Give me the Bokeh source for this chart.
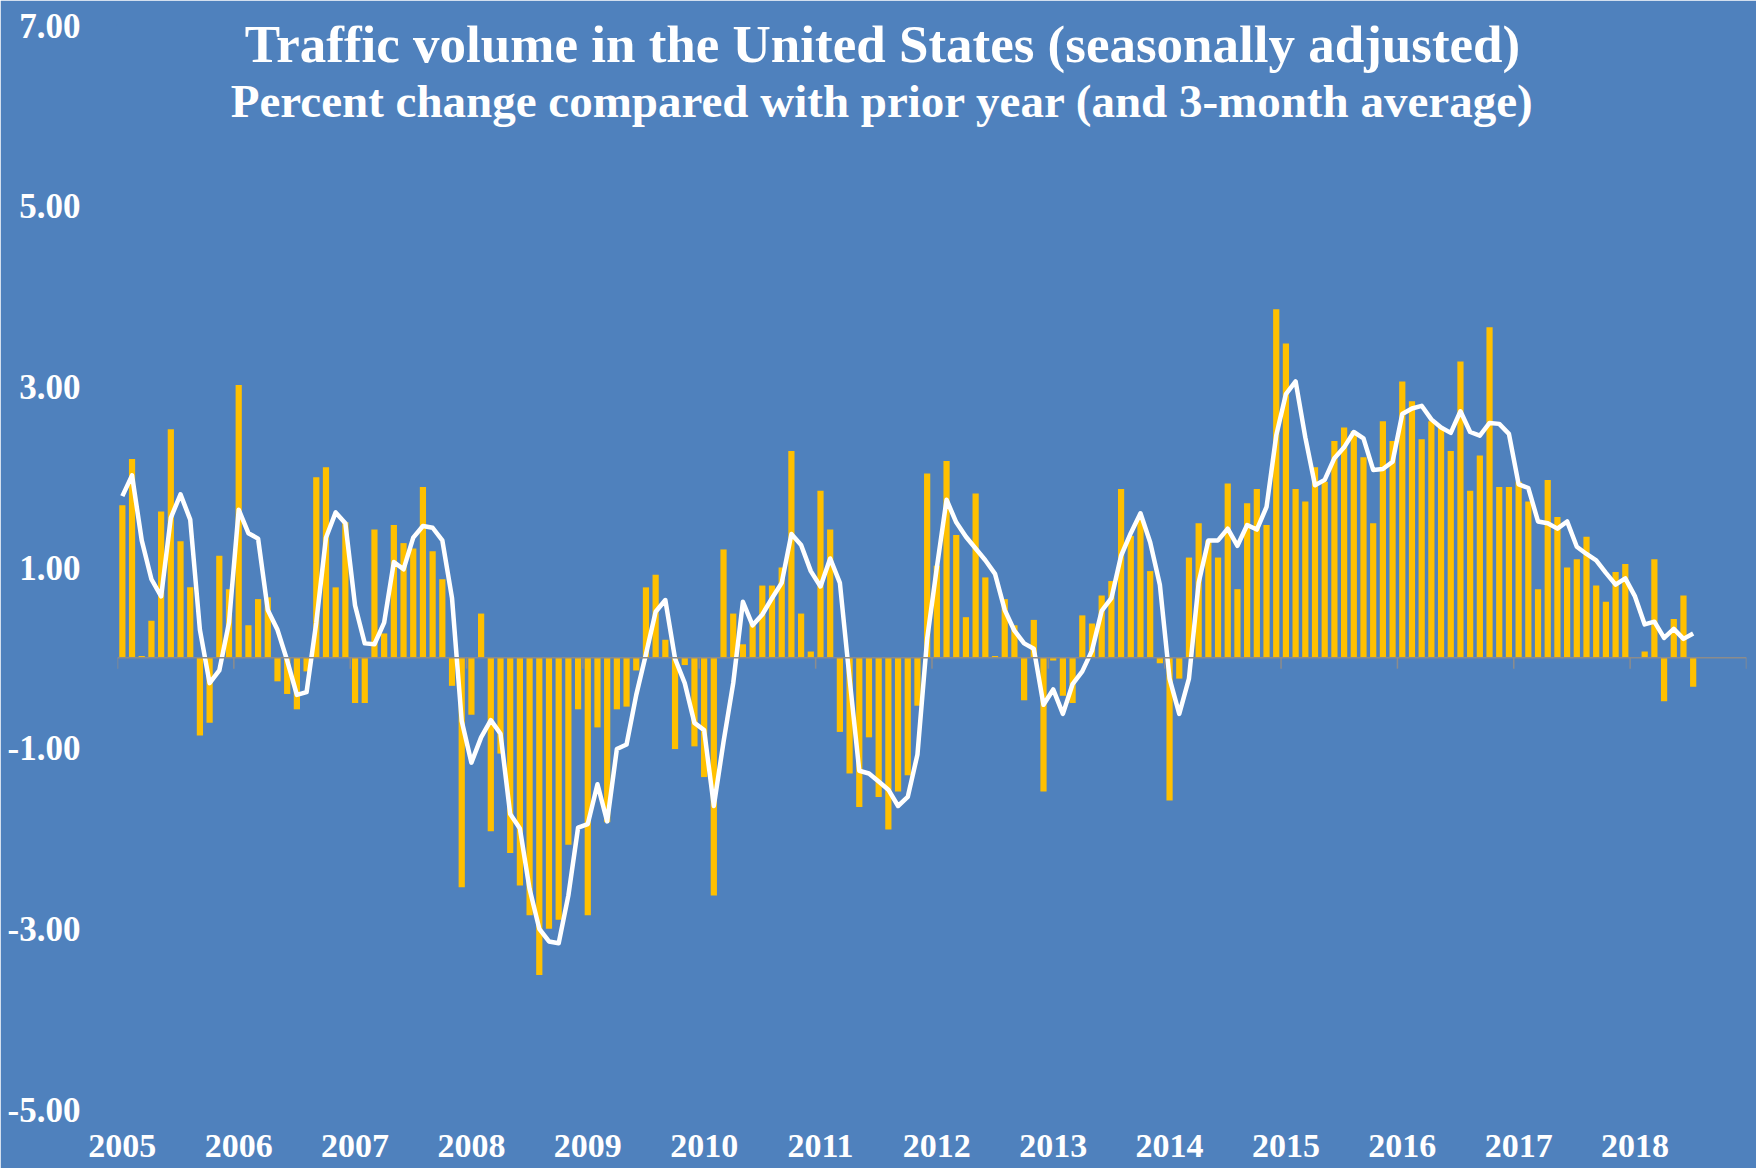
from bokeh.plotting import figure
from bokeh.models import Range1d, FixedTicker, PrintfTickFormatter, Span, Label
from bokeh.embed import file_html
from bokeh.resources import INLINE

# ---------------- data ----------------
years = [str(y) for y in range(2005, 2019)]

yoy_change = [
    # 2005
    1.69, 2.20, 0.02, 0.41, 1.62, 2.53, 1.29, 0.78, -0.86, -0.72, 1.13, 0.76,
    # 2006
    3.02, 0.36, 0.65, 0.67, -0.26, -0.40, -0.57, -0.15, 2.00, 2.11, 0.78, 1.50,
    # 2007
    -0.50, -0.50, 1.42, 0.27, 1.47, 1.27, 1.21, 1.89, 1.18, 0.87, -0.31, -2.54,
    # 2008
    -0.63, 0.49, -1.92, -1.06, -2.16, -2.52, -2.85, -3.51, -3.00, -2.90, -2.07, -0.57,
    # 2009
    -2.85, -0.77, -1.82, -0.57, -0.54, -0.14, 0.78, 0.92, 0.20, -1.01, -0.08, -0.98,
    # 2010
    -1.32, -2.63, 1.20, 0.49, 0.15, 0.38, 0.80, 0.80, 1.00, 2.29, 0.49, 0.07,
    # 2011
    1.85, 1.42, -0.82, -1.28, -1.65, -0.88, -1.54, -1.90, -1.48, -1.30, -0.53, 2.04,
    # 2012
    1.02, 2.18, 1.36, 0.45, 1.82, 0.89, 0.02, 0.65, 0.36, -0.47, 0.42, -1.48,
    # 2013
    -0.03, -0.42, -0.50, 0.47, 0.38, 0.69, 0.85, 1.87, 1.35, 1.55, 0.96, -0.06,
    # 2014
    -1.58, -0.23, 1.11, 1.49, 1.30, 1.11, 1.93, 0.76, 1.71, 1.87, 1.47, 3.86,
    # 2015
    3.48, 1.87, 1.73, 2.11, 1.95, 2.40, 2.55, 2.51, 2.22, 1.49, 2.62, 2.40,
    # 2016
    3.06, 2.84, 2.42, 2.62, 2.55, 2.29, 3.28, 1.85, 2.24, 3.66, 1.89, 1.89,
    # 2017
    1.95, 1.73, 0.76, 1.97, 1.56, 1.00, 1.09, 1.34, 0.80, 0.62, 0.95, 1.04,
    # 2018
    0.00, 0.07, 1.09, -0.48, 0.43, 0.69, -0.32,
]

avg_3m = [
    # 2005
    1.79, 2.02, 1.30, 0.87, 0.68, 1.55, 1.81, 1.53, 0.31, -0.28, -0.14, 0.39,
    # 2006
    1.64, 1.38, 1.32, 0.53, 0.31, -0.03, -0.41, -0.38, 0.39, 1.33, 1.61, 1.49,
    # 2007
    0.58, 0.16, 0.15, 0.39, 1.06, 0.98, 1.33, 1.46, 1.44, 1.30, 0.66, -0.70,
    # 2008
    -1.16, -0.88, -0.69, -0.84, -1.73, -1.89, -2.56, -3.00, -3.14, -3.16, -2.63, -1.88,
    # 2009
    -1.84, -1.40, -1.81, -1.01, -0.96, -0.41, 0.04, 0.51, 0.64, -0.01, -0.28, -0.72,
    # 2010
    -0.80, -1.64, -0.93, -0.28, 0.62, 0.36, 0.48, 0.66, 0.83, 1.37, 1.25, 0.96,
    # 2011
    0.79, 1.10, 0.83, -0.23, -1.25, -1.28, -1.37, -1.46, -1.64, -1.54, -1.07, 0.21,
    # 2012
    1.00, 1.75, 1.50, 1.34, 1.21, 1.08, 0.93, 0.53, 0.30, 0.16, 0.10, -0.52,
    # 2013
    -0.35, -0.62, -0.29, -0.15, 0.08, 0.52, 0.66, 1.13, 1.38, 1.60, 1.28, 0.81,
    # 2014
    -0.23, -0.62, -0.23, 0.83, 1.30, 1.30, 1.43, 1.24, 1.47, 1.42, 1.67, 2.46,
    # 2015
    2.92, 3.06, 2.44, 1.91, 1.97, 2.21, 2.33, 2.50, 2.43, 2.08, 2.09, 2.17,
    # 2016
    2.70, 2.76, 2.79, 2.64, 2.55, 2.49, 2.73, 2.50, 2.46, 2.60, 2.59, 2.48,
    # 2017
    1.92, 1.88, 1.51, 1.49, 1.43, 1.51, 1.23, 1.15, 1.08, 0.94, 0.81, 0.88,
    # 2018
    0.68, 0.37, 0.40, 0.22, 0.32, 0.21, 0.27,
]

y_ticks = [-5, -3, -1, 1, 3, 5, 7]

title_text = "Traffic volume in the United States (seasonally adjusted)"
subtitle_text = "Percent change compared with prior year (and 3-month average)"

# ---------------- styling ----------------
BG = "#4F81BD"
BAR = "#FFC000"
FONT = "Liberation Serif"

months = list(range(len(yoy_change)))
n_slots = 12 * (len(years))  # 168 monthly slots (2005-2018)

p = figure(
    width=1756, height=1168,
    x_range=Range1d(-0.5, n_slots - 0.5),
    y_range=Range1d(-5, 7),
    output_backend="svg", toolbar_location=None,
    min_border_left=117, min_border_right=10,
    min_border_top=25, min_border_bottom=59,
)
p.background_fill_color = BG
p.border_fill_color = BG
p.outline_line_color = BG
p.outline_line_width = 3
p.grid.visible = False

# bars
p.vbar(x=months, top=yoy_change, width=0.64, fill_color=BAR, line_color=None)

# zero axis line and year ticks
p.add_layout(Span(location=0, dimension="width", line_color="#8C8C8C", line_width=1.5))
tick_x = [12 * k - 0.5 for k in range(len(years) + 1)]
p.segment(x0=tick_x, y0=[0] * len(tick_x), x1=tick_x, y1=[-0.12] * len(tick_x),
          line_color="#8C8C8C", line_width=1.5)

# 3-month average
p.line(x=months, y=avg_3m, line_color="white", line_width=4.5, line_join="round")

# y axis
p.yaxis.ticker = FixedTicker(ticks=y_ticks)
p.yaxis.formatter = PrintfTickFormatter(format="%.2f")
p.yaxis.axis_line_color = None
p.yaxis.major_tick_line_color = None
p.yaxis.minor_tick_line_color = None
p.yaxis.major_label_standoff = 31
p.yaxis.major_label_text_color = "white"
p.yaxis.major_label_text_font = FONT
p.yaxis.major_label_text_font_style = "bold"
p.yaxis.major_label_text_font_size = "35px"

# x axis (year labels at bottom)
year_pos = [12 * k for k in range(len(years))]
p.xaxis.ticker = FixedTicker(ticks=year_pos)
p.xaxis.major_label_overrides = {pos: lab for pos, lab in zip(year_pos, years)}
p.xaxis.axis_line_color = None
p.xaxis.major_tick_line_color = None
p.xaxis.minor_tick_line_color = None
p.xaxis.major_label_standoff = 19
p.xaxis.major_label_text_line_height = 1.0
p.xaxis.major_label_text_color = "white"
p.xaxis.major_label_text_font = FONT
p.xaxis.major_label_text_font_style = "bold"
p.xaxis.major_label_text_font_size = "34px"

# titles
p.add_layout(Label(x=78.4, y=6.80, text=title_text, text_align="center",
                   text_baseline="middle", text_color="white", text_font=FONT,
                   text_font_style="bold", text_font_size="53px"))
p.add_layout(Label(x=78.4, y=6.16, text=subtitle_text, text_align="center",
                   text_baseline="middle", text_color="white", text_font=FONT,
                   text_font_style="bold", text_font_size="47px"))

open("out.html", "w").write(file_html(p, INLINE))
